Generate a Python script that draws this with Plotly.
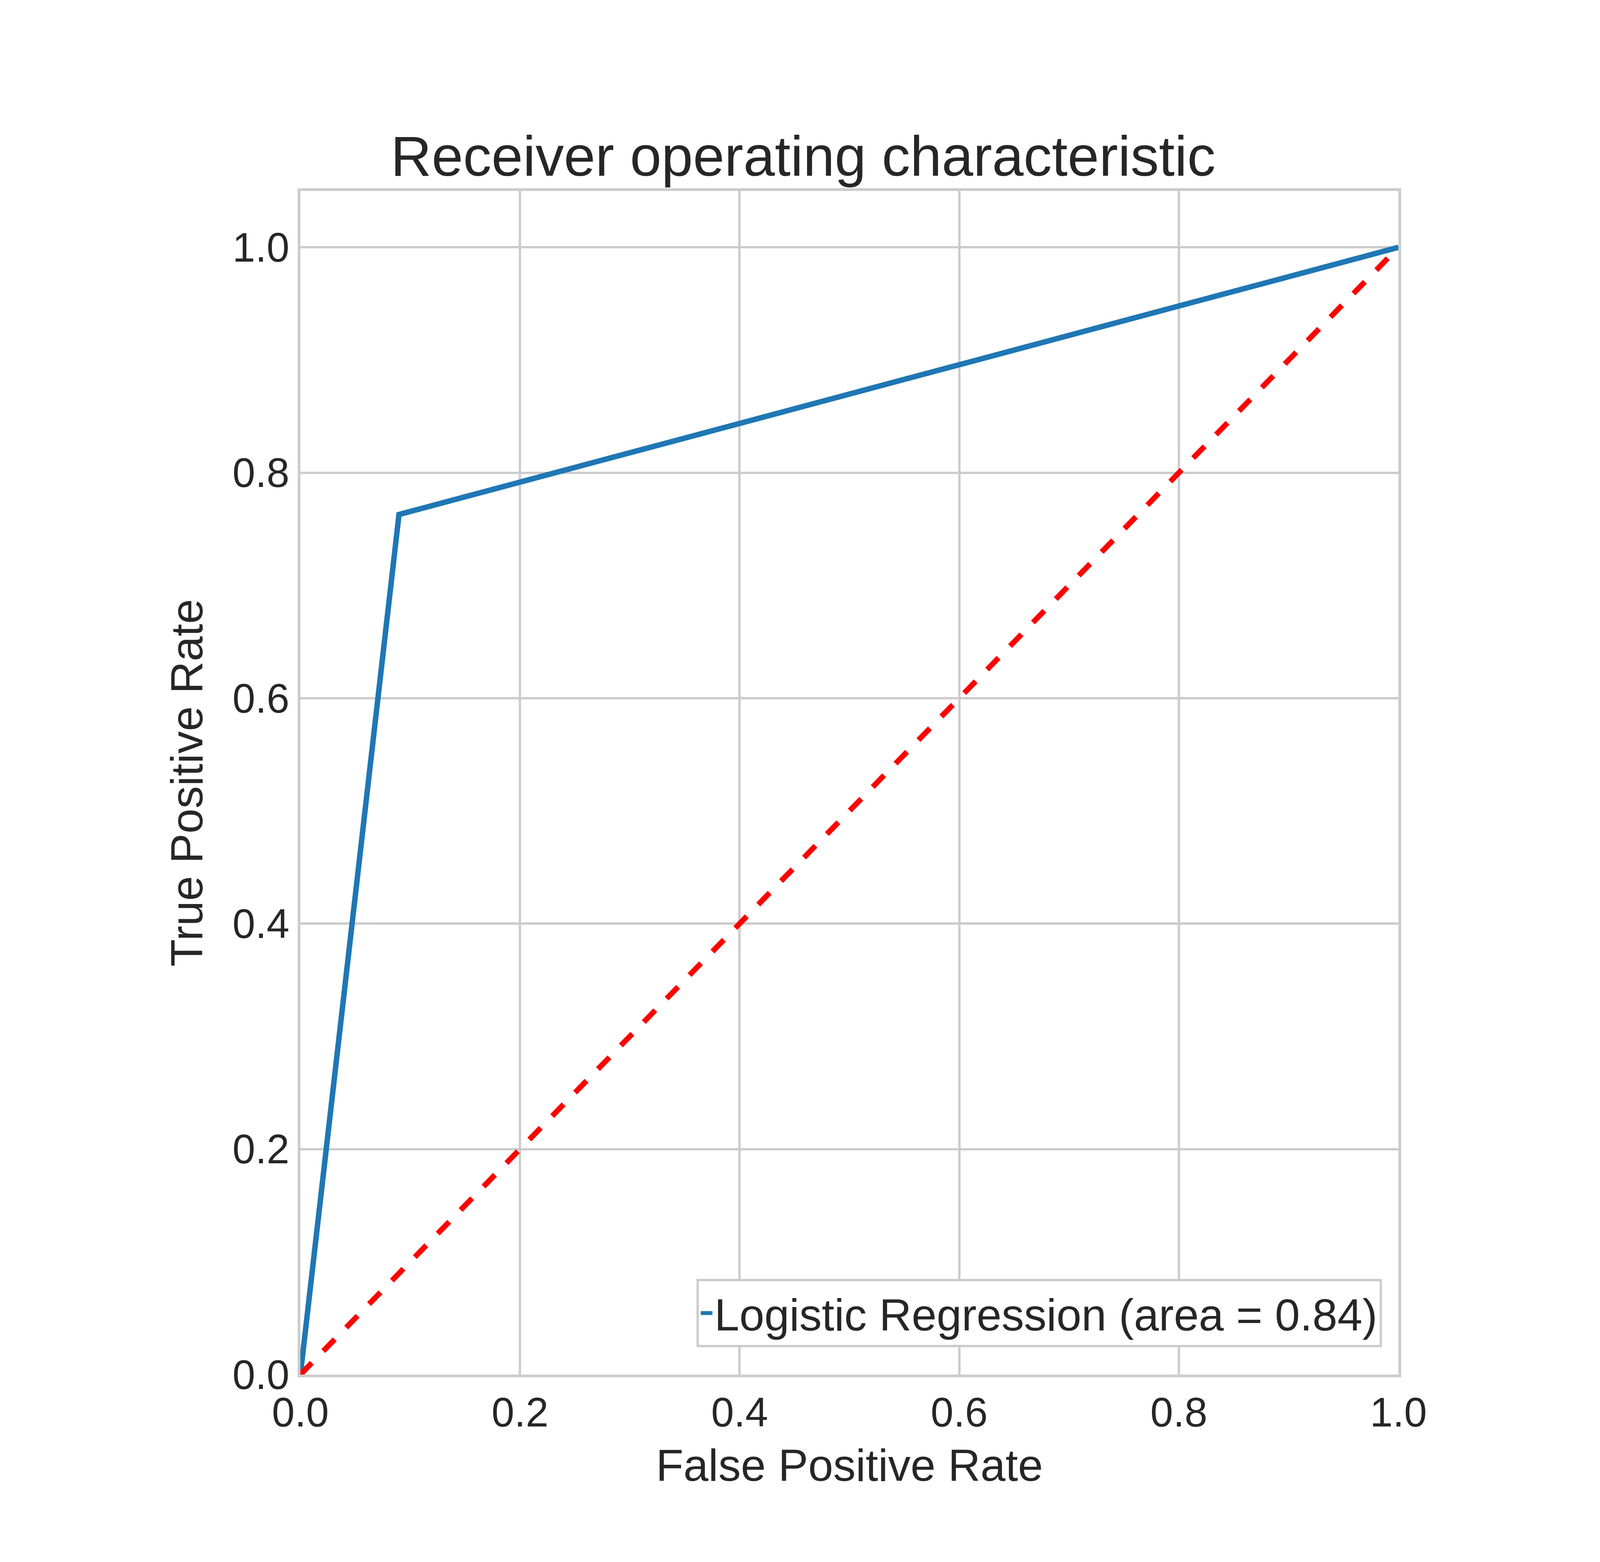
import plotly.graph_objects as go

fpr = [0.0, 0.0898, 1.0]
tpr = [0.0, 0.763, 1.0]
diag_x = [0, 1]
diag_y = [0, 1]
auc = 0.84
ticks = [0.0, 0.2, 0.4, 0.6, 0.8, 1.0]
tick_text = ["0.0", "0.2", "0.4", "0.6", "0.8", "1.0"]

F = "Liberation Sans, Arial, sans-serif"
fig = go.Figure()
fig.add_trace(go.Scatter(x=fpr, y=tpr, mode="lines", name=f"Logistic Regression (area = {auc:.2f})",
                         line=dict(color="#1f77b4", width=14)))
fig.add_trace(go.Scatter(x=diag_x, y=diag_y, mode="lines", showlegend=False,
                         line=dict(color="red", width=14, dash="dash")))
ax = dict(showgrid=True, gridcolor="#cccccc", gridwidth=6, zeroline=False, showline=True,
          linecolor="#cccccc", linewidth=7, mirror=True, ticks="",
          tickfont=dict(family=F, size=105, color="#262626"), tickvals=ticks, ticktext=tick_text)
fig.update_layout(
    autosize=True, paper_bgcolor="white", plot_bgcolor="white",
    margin=dict(l=761, r=524, t=481, b=488),
    title=dict(text="Receiver operating characteristic", x=0.5, xanchor="center", y=0.915,
               font=dict(family=F, size=145, color="#262626")),
    xaxis=dict(ax, range=[0, 1], title=dict(text="False Positive Rate", font=dict(family=F, size=115, color="#262626"), standoff=40)),
    yaxis=dict(ax, range=[0, 1.05], title=dict(text="True Positive Rate", font=dict(family=F, size=115, color="#262626"), standoff=40)),
    legend=dict(x=0.985, y=0.023, xanchor="right", yanchor="bottom", bgcolor="white",
                bordercolor="#cccccc", borderwidth=6, font=dict(family=F, size=115, color="#262626")),
)
fig.write_html("out.html", default_width="100vw", default_height="100vh",
               config={"responsive": True})
